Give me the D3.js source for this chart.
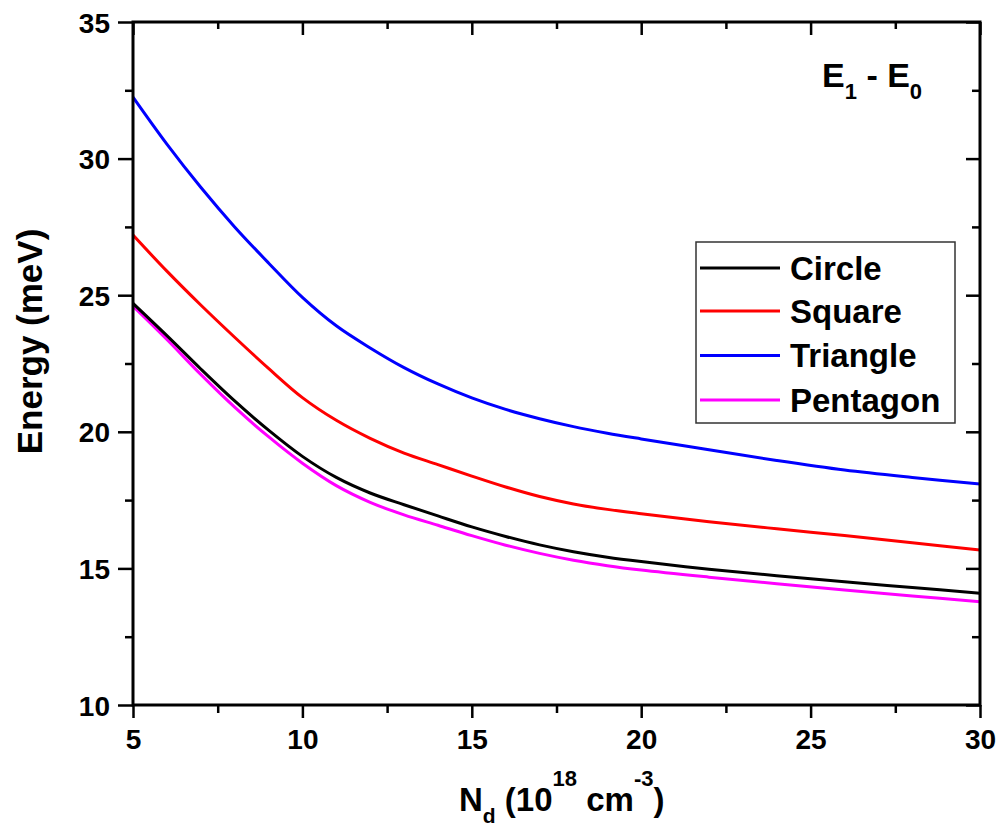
<!DOCTYPE html>
<html>
<head>
<meta charset="utf-8">
<script src="https://cdn.jsdelivr.net/npm/d3@7"></script>
<style>
  html, body { margin: 0; padding: 0; background: #fff; }
  svg { display: block; font-family: "Liberation Sans", Arial, sans-serif; font-weight: bold; }
</style>
</head>
<body>
<svg id="chart" width="997" height="829"></svg>
<script>
const xValues = [5, 6, 7, 8, 9, 10, 11, 12, 13, 14, 15, 16, 17, 18, 19, 20, 22, 24, 26, 28, 30];
const circleValues   = [24.7, 23.52, 22.3, 21.13, 20.06, 19.1, 18.33, 17.76, 17.33, 16.92, 16.52, 16.17, 15.86, 15.61, 15.41, 15.25, 14.97, 14.73, 14.51, 14.3, 14.09];
const squareValues   = [27.2, 25.88, 24.64, 23.46, 22.32, 21.25, 20.42, 19.76, 19.22, 18.8, 18.38, 17.98, 17.63, 17.36, 17.16, 17.0, 16.71, 16.45, 16.2, 15.94, 15.67];
const triangleValues = [32.25, 30.53, 28.95, 27.5, 26.18, 24.92, 23.88, 23.07, 22.35, 21.75, 21.24, 20.82, 20.48, 20.19, 19.95, 19.74, 19.34, 18.95, 18.6, 18.33, 18.09];
const pentagonValues = [24.6, 23.38, 22.1, 20.9, 19.82, 18.85, 18.03, 17.42, 16.96, 16.58, 16.2, 15.85, 15.55, 15.3, 15.1, 14.94, 14.68, 14.44, 14.21, 13.99, 13.78];
const seriesNames = ["Circle", "Square", "Triangle", "Pentagon"];
const seriesColors = ["#000000", "#ff0000", "#0000ff", "#ff00ff"];
const xTicks = [5, 10, 15, 20, 25, 30];
const yTicks = [10, 15, 20, 25, 30, 35];
const xMinor = [7.5, 12.5, 17.5, 22.5, 27.5];
const yMinor = [12.5, 17.5, 22.5, 27.5, 32.5];

const seriesValues = [circleValues, squareValues, triangleValues, pentagonValues];

const svg = d3.select("#chart");
const L = 133, R = 980, T = 22, B = 705;
const x = d3.scaleLinear().domain([5, 30]).range([L, R]);
const y = d3.scaleLinear().domain([10, 35]).range([B, T]);

const tickFont = 28;

svg.append("clipPath").attr("id", "clip").append("rect")
  .attr("x", L).attr("y", T).attr("width", R - L).attr("height", B - T);

const line = d3.line().x((d, i) => x(xValues[i])).y(d => y(d)).curve(d3.curveCatmullRom.alpha(0.5));
const gLines = svg.append("g").attr("clip-path", "url(#clip)");
[3, 0, 1, 2].forEach(k => {
  gLines.append("path").datum(seriesValues[k])
    .attr("d", line).attr("fill", "none")
    .attr("stroke", seriesColors[k]).attr("stroke-width", 3)
    .attr("stroke-linejoin", "round");
});

function styleAxis(g) {
  g.attr("font-size", tickFont).attr("font-family", '"Liberation Sans", Arial, sans-serif');
  g.select(".domain").remove();
  g.selectAll("line").attr("stroke", "#000").attr("stroke-width", 2.5);
  g.selectAll("text").attr("font-size", tickFont).attr("font-weight", "bold").attr("fill", "#000");
}

// bottom axis (outward)
svg.append("g").attr("transform", `translate(0,${B})`)
  .call(d3.axisBottom(x).tickValues(xTicks).tickSize(13).tickPadding(11).tickFormat(d3.format("d")))
  .call(styleAxis);
svg.append("g").attr("transform", `translate(0,${B})`)
  .call(d3.axisBottom(x).tickValues(xMinor).tickSize(8).tickFormat(""))
  .call(styleAxis);
// top axis (inward)
svg.append("g").attr("transform", `translate(0,${T})`)
  .call(d3.axisBottom(x).tickValues(xTicks).tickSize(13).tickFormat(""))
  .call(styleAxis);
svg.append("g").attr("transform", `translate(0,${T})`)
  .call(d3.axisBottom(x).tickValues(xMinor).tickSize(7).tickFormat(""))
  .call(styleAxis);
// left axis (outward)
const gL = svg.append("g").attr("transform", `translate(${L},0)`)
  .call(d3.axisLeft(y).tickValues(yTicks).tickSize(15).tickPadding(8).tickFormat(d3.format("d")))
  .call(styleAxis);
gL.selectAll("text").attr("dy", "0.36em");
svg.append("g").attr("transform", `translate(${L},0)`)
  .call(d3.axisLeft(y).tickValues(yMinor).tickSize(8).tickFormat(""))
  .call(styleAxis);
// right axis (inward)
svg.append("g").attr("transform", `translate(${R},0)`)
  .call(d3.axisLeft(y).tickValues(yTicks).tickSize(14).tickFormat(""))
  .call(styleAxis);
svg.append("g").attr("transform", `translate(${R},0)`)
  .call(d3.axisLeft(y).tickValues(yMinor).tickSize(8).tickFormat(""))
  .call(styleAxis);

// frame
svg.append("rect").attr("x", L).attr("y", T).attr("width", R - L).attr("height", B - T)
  .attr("fill", "none").attr("stroke", "#000").attr("stroke-width", 3);

// Y title
svg.append("text")
  .attr("transform", `translate(42,${(233 + 450) / 2}) rotate(-90)`)
  .attr("text-anchor", "middle").attr("font-size", 35).attr("fill", "#000")
  .text("Energy (meV)");

// X title
const xt = svg.append("text").attr("x", 459).attr("y", 811)
  .attr("font-size", 33).attr("fill", "#000");
xt.append("tspan").text("N");
xt.append("tspan").attr("font-size", 21).attr("dy", 12).text("d");
xt.append("tspan").attr("dy", -12).text(" (10");
xt.append("tspan").attr("font-size", 22).attr("dy", -25).text("18");
xt.append("tspan").attr("dy", 25).text(" cm");
xt.append("tspan").attr("font-size", 22).attr("dy", -25).text("-3");
xt.append("tspan").attr("dy", 25).text(")");

// E1 - E0 label
const el = svg.append("text").attr("x", 822).attr("y", 87)
  .attr("font-size", 34).attr("fill", "#000");
el.append("tspan").text("E");
el.append("tspan").attr("font-size", 22).attr("dy", 12).text("1");
el.append("tspan").attr("dy", -12).text(" - E");
el.append("tspan").attr("font-size", 22).attr("dy", 12).text("0");

// legend
const lg = svg.append("g");
lg.append("rect").attr("x", 696).attr("y", 242).attr("width", 259).attr("height", 181)
  .attr("fill", "#fff").attr("stroke", "#333").attr("stroke-width", 1.5);
const rowY = [268, 311, 355.5, 400];
seriesNames.forEach((name, i) => {
  lg.append("line").attr("x1", 700).attr("x2", 780).attr("y1", rowY[i]).attr("y2", rowY[i])
    .attr("stroke", seriesColors[i]).attr("stroke-width", 3);
  lg.append("text").attr("x", 790).attr("y", rowY[i]).attr("dy", "0.36em")
    .attr("font-size", 33).attr("fill", "#000").text(name);
});
</script>
</body>
</html>
